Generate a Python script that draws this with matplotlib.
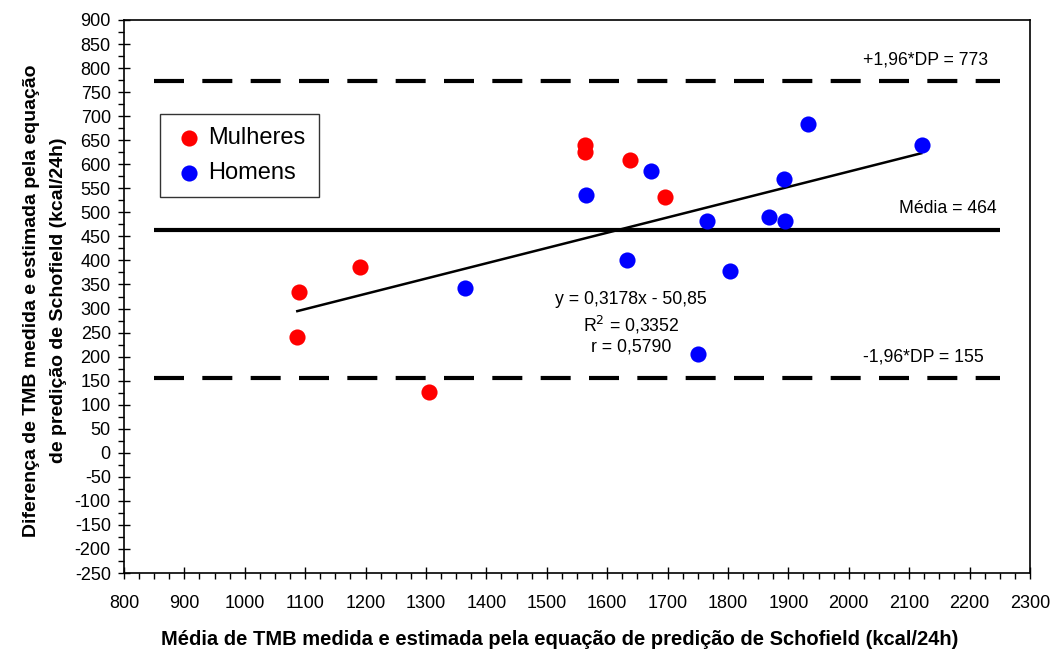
import matplotlib
matplotlib.use('Agg')
from matplotlib import pyplot as plt
from matplotlib.ticker import MultipleLocator

plt.rcParams['font.family'] = ['Liberation Sans', 'DejaVu Sans']
plt.rcParams['axes.unicode_minus'] = False

# data
mulheres_x = [1089, 1086, 1191, 1305, 1564, 1564, 1637, 1695]
mulheres_y = [334, 241, 386, 126, 640, 626, 609, 531]
homens_x = [1365, 1565, 1633, 1672, 1766, 1751, 1803, 1868, 1893, 1894, 1933, 2122]
homens_y = [342, 537, 401, 586, 483, 205, 377, 490, 569, 483, 683, 641]

media = 464
lim_sup = 773
lim_inf = 155
slope = 0.3178
intercept = -50.85
reg_x = [1087, 2120]

fig = plt.figure(figsize=(10.54, 6.6), dpi=100)
ax = fig.add_axes([0.1176, 0.1318, 0.8596, 0.8379])

# limits of agreement and mean
ax.plot([850, 2250], [lim_sup, lim_sup], color='black', lw=3, dashes=(7.2, 4.4), dash_capstyle='butt')
ax.plot([850, 2250], [lim_inf, lim_inf], color='black', lw=3, dashes=(7.2, 4.4), dash_capstyle='butt')
ax.plot([850, 2250], [media, media], color='black', lw=3, solid_capstyle='butt')

# regression line
ax.plot(reg_x, [slope * v + intercept for v in reg_x], color='black', lw=1.8)

ax.scatter(mulheres_x, mulheres_y, s=135, color='#ff0000', label='Mulheres', zorder=3, linewidths=0)
ax.scatter(homens_x, homens_y, s=135, color='#0000ff', label='Homens', zorder=3, linewidths=0)

fs = 12.7
ax.text(2230, 817, '+1,96*DP = 773', ha='right', va='center', fontsize=fs)
ax.text(2244, 509, 'Média = 464', ha='right', va='center', fontsize=fs)
ax.text(2224, 199, '-1,96*DP = 155', ha='right', va='center', fontsize=fs)
ax.text(1639, 318, 'y = 0,3178x - 50,85', ha='center', va='center', fontsize=fs)
ax.text(1639, 266, 'R$^2$ = 0,3352', ha='center', va='center', fontsize=fs)
ax.text(1639, 220, 'r = 0,5790', ha='center', va='center', fontsize=fs)

ax.set_xlim(800, 2300)
ax.set_ylim(-250, 900)
ax.xaxis.set_major_locator(MultipleLocator(100))
ax.xaxis.set_minor_locator(MultipleLocator(25))
ax.yaxis.set_major_locator(MultipleLocator(50))
ax.yaxis.set_minor_locator(MultipleLocator(25))
ax.tick_params(which='major', direction='inout', length=9, width=1, labelsize=13)
ax.tick_params(which='minor', direction='out', length=4, width=1)
ax.tick_params(axis='x', which='major', pad=11)
ax.tick_params(axis='y', which='major', pad=5)
for sp in ax.spines.values():
    sp.set_linewidth(1.2)

leg = ax.legend(loc='upper left', bbox_to_anchor=(0.0397, 0.830), borderaxespad=0,
                fontsize=17, frameon=True, fancybox=False, edgecolor='black',
                handletextpad=0.15, borderpad=0.55, labelspacing=0.55, markerscale=1.0,
                handlelength=1.35)
leg.get_frame().set_linewidth(1.0)

fig.text(0.0427, 0.545, 'Diferença de TMB medida e estimada pela equação\nde predição de Schofield (kcal/24h)',
         rotation=90, ha='center', va='center', fontsize=14, fontweight='bold', multialignment='center', linespacing=1.7)
fig.text(0.531, 0.031, 'Média de TMB medida e estimada pela equação de predição de Schofield (kcal/24h)',
         ha='center', va='center', fontsize=14.5, fontweight='bold')

fig.savefig('out.png', dpi=100)
